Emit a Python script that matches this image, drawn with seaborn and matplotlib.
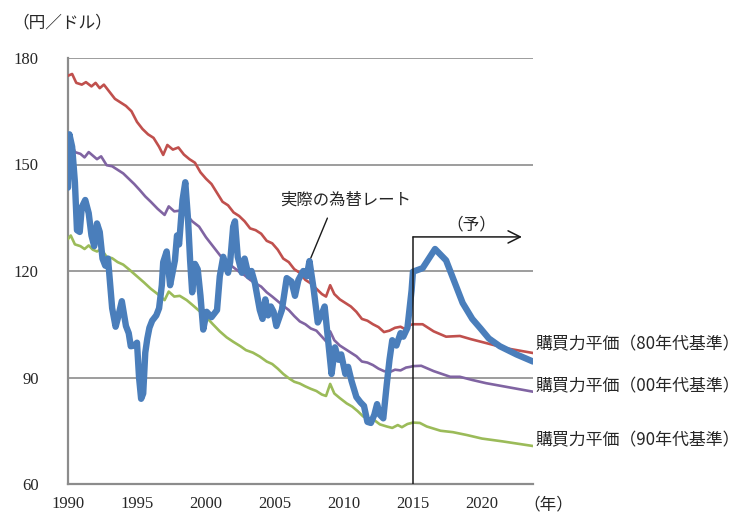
import matplotlib
matplotlib.use("Agg")
import matplotlib.pyplot as plt
import seaborn as sns
import pandas as pd

# --- data -------------------------------------------------------------
# Actual USD/JPY rate (1990-2015) followed by the forecast path (2015-)
rate_year = [1990.0, 1990.1, 1990.3, 1990.5, 1990.65, 1990.85, 1991.0, 1991.25, 1991.5, 1991.7,
             1991.9, 1992.1, 1992.3, 1992.5, 1992.7, 1992.9, 1993.2, 1993.45, 1993.6, 1993.9,
             1994.2, 1994.4, 1994.55, 1994.8, 1995.0, 1995.15, 1995.3, 1995.45, 1995.6, 1995.75,
             1995.9, 1996.1, 1996.4, 1996.6, 1996.8, 1996.9, 1997.15, 1997.4, 1997.6, 1997.75,
             1997.9, 1998.05, 1998.3, 1998.5, 1998.7, 1998.85, 1999.0, 1999.2, 1999.4, 1999.6,
             1999.8, 2000.05, 2000.4, 2000.8, 2001.0, 2001.25, 2001.6, 2001.75, 2001.97, 2002.1,
             2002.3, 2002.6, 2002.8, 2003.1, 2003.3, 2003.55, 2003.9, 2004.1, 2004.3, 2004.5,
             2004.7, 2004.9, 2005.1, 2005.5, 2005.85, 2006.2, 2006.45, 2006.7, 2007.05, 2007.3,
             2007.5, 2007.8, 2008.1, 2008.4, 2008.6, 2008.85, 2009.1, 2009.35, 2009.6, 2009.8,
             2010.1, 2010.3, 2010.55, 2010.9, 2011.2, 2011.45, 2011.7, 2011.95, 2012.2, 2012.4,
             2012.6, 2012.85, 2013.1, 2013.3, 2013.5, 2013.8, 2014.1, 2014.3, 2014.6, 2014.9,
             2015.0, 2015.7, 2016.6, 2017.4, 2018.0, 2018.6, 2019.3, 2019.9, 2020.5, 2021.3,
             2022.5, 2023.7]
rate_value = [143.5, 158.5, 155.0, 145.0, 131.5, 131.0, 138.0, 140.0, 136.3, 130.0,
              127.0, 133.4, 131.0, 123.5, 121.5, 123.5, 109.5, 104.3, 106.5, 111.5,
              104.5, 102.5, 98.8, 99.0, 99.8, 90.0, 84.0, 85.5, 97.0, 101.0,
              104.0, 106.0, 107.5, 109.5, 116.0, 122.5, 125.5, 116.0, 120.0, 123.0,
              130.0, 127.5, 140.0, 145.0, 134.5, 123.0, 114.0, 122.0, 120.5, 113.0,
              103.5, 108.5, 107.0, 109.0, 118.5, 124.0, 119.5, 122.5, 132.5, 134.0,
              124.0, 119.5, 123.5, 118.5, 120.0, 116.5, 109.0, 106.5, 112.0, 107.5,
              110.0, 108.5, 104.5, 109.0, 118.0, 117.0, 113.0, 117.5, 120.0, 118.5,
              122.8, 115.0, 105.5, 108.0, 110.0, 100.5, 91.0, 98.5, 95.0, 96.5,
              91.0, 93.0, 89.0, 84.5, 83.0, 82.0, 77.5, 77.2, 79.5, 82.5,
              79.5, 78.5, 88.0, 95.0, 100.5, 99.0, 102.5, 101.5, 104.0, 114.5,
              119.8, 120.8, 126.2, 123.0, 117.0, 111.0, 106.5, 103.8, 101.0, 98.8,
              96.5, 94.5]

# Purchasing power parity, 1980s base
ppp80_year = [1990.0, 1990.3, 1990.6, 1991.0, 1991.3, 1991.7, 1992.0, 1992.3, 1992.6, 1993.0,
              1993.4, 1993.8, 1994.2, 1994.6, 1995.0, 1995.4, 1995.8, 1996.2, 1996.6, 1996.9,
              1997.2, 1997.6, 1998.0, 1998.4, 1998.8, 1999.2, 1999.6, 2000.0, 2000.4, 2000.8,
              2001.2, 2001.6, 2002.0, 2002.4, 2002.8, 2003.2, 2003.6, 2004.0, 2004.4, 2004.8,
              2005.2, 2005.6, 2006.0, 2006.4, 2006.8, 2007.2, 2007.6, 2008.0, 2008.4, 2008.7,
              2009.0, 2009.3, 2009.7, 2010.1, 2010.5, 2010.9, 2011.3, 2011.7, 2012.1, 2012.5,
              2012.9, 2013.3, 2013.7, 2014.1, 2014.5, 2014.8, 2015.0, 2015.7, 2016.5, 2017.4,
              2018.4, 2019.2, 2019.9, 2021.8, 2023.7]
ppp80_value = [175.0, 175.5, 173.0, 172.5, 173.2, 172.0, 173.0, 171.5, 172.5, 170.5,
               168.5, 167.5, 166.5, 165.0, 162.0, 160.0, 158.5, 157.5, 155.0, 152.7,
               155.5, 154.2, 154.8, 152.8, 151.5, 150.5, 147.8, 146.0, 144.5, 142.0,
               139.5, 138.5, 136.5, 135.5, 134.0, 132.0, 131.5, 130.5, 128.5, 127.8,
               126.0, 123.5, 122.5, 120.5, 119.5, 117.5, 116.5, 115.0, 113.5, 112.8,
               116.0, 113.5, 112.0, 111.0, 110.0, 108.5, 106.5, 106.0, 105.0, 104.2,
               102.8, 103.2, 104.0, 104.3, 103.5, 104.8, 105.0, 105.0, 103.0, 101.5,
               101.7, 100.8, 100.1, 98.2, 96.9]

# Purchasing power parity, 2000s base
ppp00_year = [1990.0, 1990.2, 1990.5, 1990.9, 1991.2, 1991.5, 1991.8, 1992.1, 1992.4, 1992.8,
              1993.2, 1993.6, 1994.0, 1994.4, 1994.8, 1995.2, 1995.6, 1996.0, 1996.5, 1997.0,
              1997.3, 1997.7, 1998.1, 1998.6, 1999.0, 1999.5, 2000.0, 2000.4, 2000.8, 2001.2,
              2001.6, 2002.0, 2002.4, 2002.8, 2003.2, 2003.6, 2004.0, 2004.4, 2004.8, 2005.2,
              2005.6, 2006.0, 2006.4, 2006.8, 2007.2, 2007.6, 2008.0, 2008.4, 2008.7, 2009.0,
              2009.3, 2009.7, 2010.1, 2010.5, 2010.9, 2011.3, 2011.7, 2012.1, 2012.5, 2012.9,
              2013.3, 2013.7, 2014.1, 2014.5, 2014.8, 2015.0, 2015.6, 2016.5, 2017.7, 2018.4,
              2019.3, 2020.3, 2023.7]
ppp00_value = [155.0, 156.5, 153.5, 153.0, 152.0, 153.5, 152.5, 151.5, 152.3, 149.8,
               149.5, 148.5, 147.5, 146.0, 144.5, 142.8, 141.0, 139.5, 137.5, 135.8,
               138.2, 136.8, 137.0, 135.8, 134.0, 132.5, 129.5, 127.5, 125.5, 123.5,
               122.2, 121.0, 119.8, 118.8, 117.5, 116.5, 115.6, 114.0, 112.8, 111.5,
               110.2, 109.0, 107.3, 105.8, 105.0, 103.8, 103.2, 101.5, 100.2, 103.0,
               100.5, 99.0, 98.0, 97.0, 96.0, 94.5, 94.2, 93.5, 92.5, 91.8,
               91.5, 92.2, 92.0, 92.8, 93.0, 93.2, 93.3, 91.8, 90.2, 90.2,
               89.3, 88.4, 86.0]

# Purchasing power parity, 1990s base
ppp90_year = [1990.0, 1990.2, 1990.5, 1990.9, 1991.2, 1991.5, 1991.8, 1992.1, 1992.4, 1992.8,
              1993.2, 1993.6, 1994.0, 1994.5, 1995.0, 1995.5, 1996.0, 1996.5, 1997.0, 1997.3,
              1997.7, 1998.1, 1998.6, 1999.0, 1999.5, 2000.0, 2000.5, 2001.0, 2001.5, 2002.0,
              2002.5, 2002.9, 2003.4, 2003.9, 2004.4, 2004.8, 2005.2, 2005.6, 2006.0, 2006.4,
              2006.8, 2007.2, 2007.6, 2008.0, 2008.4, 2008.7, 2009.0, 2009.3, 2009.7, 2010.2,
              2010.6, 2011.0, 2011.4, 2011.8, 2012.2, 2012.6, 2013.1, 2013.5, 2013.9, 2014.2,
              2014.6, 2015.0, 2015.5, 2016.0, 2017.0, 2017.9, 2018.9, 2020.0, 2021.5, 2023.7]
ppp90_value = [129.0, 130.0, 127.5, 127.0, 126.2, 127.2, 126.0, 125.5, 126.2, 124.0,
               123.6, 122.5, 121.8, 120.2, 118.5, 116.8, 115.0, 113.5, 111.8, 114.2,
               112.8, 113.0, 111.8, 110.5, 108.8, 107.1, 105.0, 103.0, 101.3, 100.0,
               98.8, 97.7, 97.0, 95.9, 94.5, 93.8, 92.5, 91.0, 89.8, 88.8,
               88.3, 87.5, 86.8, 86.2, 85.2, 84.8, 88.2, 85.5, 84.2, 82.7,
               81.8, 80.5, 79.0, 78.5, 78.0, 76.8, 76.2, 75.8, 76.6, 76.0,
               76.9, 77.3, 77.2, 76.2, 75.0, 74.6, 73.8, 72.8, 72.0, 70.7]

x_ticks = [1990, 1995, 2000, 2005, 2010, 2015, 2020]
y_ticks = [60, 90, 120, 150, 180]
forecast_start = 2015
series_labels = ["購買力平価（80年代基準）", "購買力平価（00年代基準）", "購買力平価（90年代基準）"]

# --- styling ----------------------------------------------------------
sns.set_style("white")
plt.rcParams["font.family"] = ["Noto Sans CJK JP", "DejaVu Sans"]

JP = ["Noto Sans CJK JP", "DejaVu Sans"]
SERIF = "Liberation Serif"
RED, PURPLE, GREEN, BLUE = "#C0504D", "#8064A2", "#9BBB59", "#4A7EBB"
GRID = "#8C8C8C"

fig = plt.figure(figsize=(7.40, 5.14), dpi=100)
ax = fig.add_axes([68 / 740, 1 - 484 / 514, (533 - 68) / 740, (484 - 58) / 514])

# --- lines ------------------------------------------------------------
frames = {
    "ppp80": pd.DataFrame({"year": ppp80_year, "value": ppp80_value}),
    "ppp00": pd.DataFrame({"year": ppp00_year, "value": ppp00_value}),
    "ppp90": pd.DataFrame({"year": ppp90_year, "value": ppp90_value}),
    "rate": pd.DataFrame({"year": rate_year, "value": rate_value}),
}
for key, color in [("ppp80", RED), ("ppp00", PURPLE), ("ppp90", GREEN)]:
    sns.lineplot(data=frames[key], x="year", y="value", ax=ax, color=color,
                 linewidth=1.9, estimator=None, sort=False, zorder=3)
sns.lineplot(data=frames["rate"], x="year", y="value", ax=ax, color=BLUE,
             linewidth=4.6, estimator=None, sort=False, zorder=4,
             solid_joinstyle="round", solid_capstyle="round")

# --- axes -------------------------------------------------------------
ax.set_xlim(1990, 2023.7)
ax.set_ylim(60, 180)
ax.set_xticks(x_ticks)
ax.set_yticks(y_ticks)
ax.set_xlabel("")
ax.set_ylabel("")
for y in y_ticks[1:]:
    ax.axhline(y, color=GRID, linewidth=1.2, zorder=1)
for side in ("top", "right"):
    ax.spines[side].set_visible(False)
for side in ("left", "bottom"):
    ax.spines[side].set_color(GRID)
    ax.spines[side].set_linewidth(1.6)
ax.tick_params(axis="x", direction="out", length=4, width=1.2, color=GRID, pad=5,
               labelsize=12)
ax.tick_params(axis="y", direction="out", length=4, width=1.2, color=GRID, pad=17,
               labelsize=12)
for lab in ax.get_xticklabels() + ax.get_yticklabels():
    lab.set_fontfamily(SERIF)

# forecast marker: vertical line and arrow
arrow_y = 129.6
ax.plot([forecast_start, forecast_start], [60, arrow_y], color="#1a1a1a",
        linewidth=1.1, zorder=5)
ax.annotate("", xy=(2022.9, arrow_y), xytext=(forecast_start, arrow_y),
            arrowprops=dict(arrowstyle="->", color="#1a1a1a", lw=1.1,
                            mutation_scale=22, shrinkA=0, shrinkB=0), zorder=5)
ax.text(2019.2, 133.0, "（予）", fontsize=12, family=JP, ha="center", va="center")

# label for the actual rate with a pointer line
ax.plot([2008.8, 2007.6], [134.9, 123.7], color="#1a1a1a", linewidth=1.0, zorder=5)
ax.text(2010.1, 140.0, "実際の為替レート", fontsize=11.8, family=JP,
        ha="center", va="center")

# unit labels
fig.text(12 / 740, 1 - 23 / 514, "（円／ドル）", fontsize=12, family=JP,
         ha="left", va="center")
fig.text(548 / 740, 1 - 505 / 514, "（年）", fontsize=12, family=JP,
         ha="center", va="center")

# series labels at the right end
label_px_y = [344, 386, 440]
for text, py in zip(series_labels, label_px_y):
    fig.text(536 / 740, 1 - py / 514, text, fontsize=12.2, family=JP,
             ha="left", va="center")

fig.savefig("out.png", dpi=100)
